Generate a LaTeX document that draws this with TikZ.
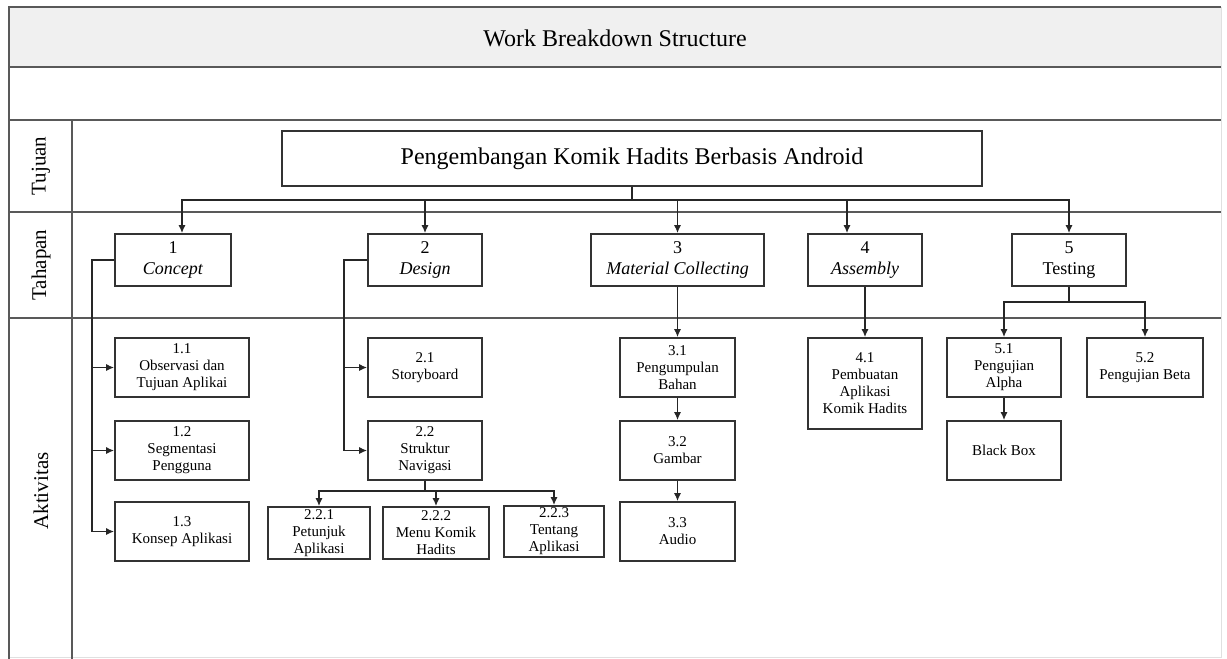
\documentclass[tikz,border=0pt]{standalone}
\usepackage{fontspec}
\setmainfont{Liberation Serif}
\usetikzlibrary{arrows.meta}
\begin{document}
\begin{tikzpicture}[x=1pt,y=-1pt,
  frame/.style={draw=black!65, line width=1.5pt},
  faint/.style={draw=black!12, line width=1pt},
  bx/.style={draw=black!80, line width=1.6pt, rectangle, align=center, inner sep=1pt, font=\fontsize{15}{17}\selectfont},
  stg/.style={bx, minimum width=114pt, minimum height=52pt, font=\fontsize{18}{21}\selectfont},
  act/.style={bx, minimum height=59pt},
  arr/.style={draw=black!85, line width=1.5pt, -{Latex[length=8pt,width=7pt]}},
  lbl/.style={rotate=90, font=\fontsize{21}{24}\selectfont}]
\useasboundingbox (0,0) rectangle (1227,659);
% frame
\fill[black!6] (9,7) rectangle (1221,67);
\draw[faint] (1221,7) -- (1221,657) -- (9,657);
\draw[frame] (9,659) -- (9,7) -- (1221,7);
\draw[frame] (9,67) -- (1221,67);
\draw[frame] (9,120) -- (1221,120);
\draw[frame] (9,212) -- (1221,212);
\draw[frame] (9,318) -- (1221,318);
\draw[frame] (72,120) -- (72,659);
\node[font=\fontsize{24}{28}\selectfont] (title) at (615,38) {Work Breakdown Structure};
\node[lbl] (tuj) at (41,166) {Tujuan};
\node[lbl] (tah) at (41,265) {Tahapan};
\node[lbl] (akt) at (41,491) {Aktivitas};
% main
\node[bx, minimum width=700pt, minimum height=55pt, font=\fontsize{24}{28}\selectfont] (main) at (632,158.5) {Pengembangan Komik Hadits Berbasis Android};
% stages
\node[stg, minimum width=116pt] (s1) at (173,260) {1\\\textit{Concept}};
\node[stg] (s2) at (425,260) {2\\\textit{Design}};
\node[stg, minimum width=173pt] (s3) at (677.5,260) {3\\\textit{Material Collecting}};
\node[stg] (s4) at (865,260) {4\\\textit{Assembly}};
\node[stg] (s5) at (1069,260) {5\\Testing};
% activities
\node[act, minimum width=134pt] (a11) at (182,367.5) {1.1\\Observasi dan\\Tujuan Aplikai};
\node[act, minimum width=134pt] (a12) at (182,450.5) {1.2\\Segmentasi\\Pengguna};
\node[act, minimum width=134pt] (a13) at (182,531.5) {1.3\\Konsep Aplikasi};
\node[act, minimum width=114pt] (a21) at (425,367.5) {2.1\\Storyboard};
\node[act, minimum width=114pt] (a22) at (425,450.5) {2.2\\Struktur\\Navigasi};
\node[bx, minimum width=102pt, minimum height=52pt] (a221) at (319,533) {2.2.1\\Petunjuk\\Aplikasi};
\node[bx, minimum width=106pt, minimum height=52pt] (a222) at (436,533) {2.2.2\\Menu Komik\\Hadits};
\node[bx, minimum width=100pt, minimum height=51pt] (a223) at (554,531.5) {2.2.3\\Tentang\\Aplikasi};
\node[act, minimum width=115pt] (a31) at (677.5,367.5) {3.1\\Pengumpulan\\Bahan};
\node[act, minimum width=115pt] (a32) at (677.5,450.5) {3.2\\Gambar};
\node[act, minimum width=115pt] (a33) at (677.5,531.5) {3.3\\Audio};
\node[bx, minimum width=114pt, minimum height=91pt] (a41) at (865,383.5) {4.1\\Pembuatan\\Aplikasi\\Komik Hadits};
\node[act, minimum width=114pt] (a51) at (1004,367.5) {5.1\\Pengujian\\Alpha};
\node[act, minimum width=116pt] (a52) at (1145,367.5) {5.2\\Pengujian Beta};
\node[act, minimum width=114pt] (bb) at (1004,450.5) {Black Box};
% connectors
\coordinate (bus) at (0,200);
\draw[arr] (main.south) -- (main.south |- bus) -| ([xshift=9pt]s1.north);
\draw[arr] (main.south) -- (main.south |- bus) -| (s2.north);
\draw[arr] (main.south) -- (main.south |- bus) -| (s3.north);
\draw[arr] (main.south) -- (main.south |- bus) -| ([xshift=-18pt]s4.north);
\draw[arr] (main.south) -- (main.south |- bus) -| (s5.north);
\coordinate (c1) at (92,260);
\draw[arr] (s1.west) -- (c1) |- (a11.west);
\draw[arr] (c1) |- (a12.west);
\draw[arr] (c1) |- (a13.west);
\coordinate (c2) at (344,260);
\draw[arr] (s2.west) -- (c2) |- (a21.west);
\draw[arr] (c2) |- (a22.west);
\coordinate (b22) at (0,491);
\draw[arr] (a22.south) -- (a22.south |- b22) -| (a221.north);
\draw[arr] (a22.south) -- (a22.south |- b22) -| (a222.north);
\draw[arr] (a22.south) -- (a22.south |- b22) -| (a223.north);
\draw[arr] (s3.south) -- (a31.north);
\draw[arr] (a31.south) -- (a32.north);
\draw[arr] (a32.south) -- (a33.north);
\draw[arr] (s4.south) -- (a41.north);
\coordinate (b5) at (0,302);
\draw[arr] (s5.south) -- (s5.south |- b5) -| (a51.north);
\draw[arr] (s5.south) -- (s5.south |- b5) -| (a52.north);
\draw[arr] (a51.south) -- (bb.north);
\end{tikzpicture}
\end{document}
